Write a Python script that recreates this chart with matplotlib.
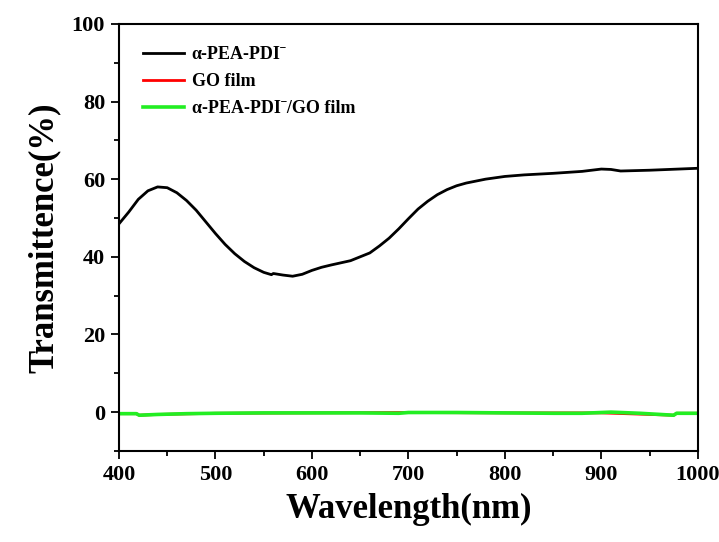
import matplotlib
matplotlib.use('Agg')
import matplotlib.pyplot as plt
import numpy as np

plt.rcParams['font.family'] = ['Liberation Serif', 'DejaVu Serif']
plt.rcParams['font.weight'] = 'bold'

# alpha-PEA-PDI- film
wl_pdi = [400, 410, 420, 430, 440, 450, 460, 470, 480, 490, 500, 510, 520, 530,
          540, 550, 558, 560, 570, 580, 590, 600, 610, 620, 640, 660, 670, 680,
          690, 700, 710, 720, 730, 740, 750, 760, 780, 800, 820, 850, 880, 890,
          900, 910, 920, 950, 980, 1000]
t_pdi = [48.5, 51.5, 54.8, 57.0, 58.0, 57.8, 56.5, 54.5, 52.0, 49.0, 46.0, 43.2,
         40.8, 38.8, 37.2, 36.0, 35.4, 35.7, 35.3, 35.0, 35.5, 36.5, 37.3, 37.9,
         39.0, 41.0, 42.8, 44.8, 47.2, 49.8, 52.3, 54.3, 56.0, 57.3, 58.3, 59.0,
         60.0, 60.7, 61.1, 61.5, 62.0, 62.3, 62.6, 62.5, 62.1, 62.3, 62.6, 62.8]

# GO film (hidden under the composite film curve)
wl_go = [400, 418, 421, 440, 500, 600, 700, 800, 900, 975, 978, 1000]
t_go = [-0.4, -0.4, -0.8, -0.6, -0.3, -0.2, -0.1, -0.2, -0.2, -0.8, -0.3, -0.3]

# alpha-PEA-PDI-/GO film
wl_comp = [400, 418, 421, 440, 470, 500, 550, 600, 650, 690, 700, 750, 800,
           850, 880, 910, 940, 975, 978, 1000]
t_comp = [-0.4, -0.4, -0.8, -0.6, -0.4, -0.3, -0.2, -0.2, -0.2, -0.3, -0.1,
          -0.1, -0.2, -0.3, -0.3, 0.0, -0.3, -0.8, -0.3, -0.3]

fig = plt.figure(figsize=(7.19, 5.42), dpi=100)
ax = fig.add_axes([0.1655, 0.168, 0.805, 0.788])

ax.plot(wl_pdi, t_pdi, color='black', lw=2.0, label='α-PEA-PDIˉ')
ax.plot(wl_go, t_go, color='#ff0000', lw=2.0, label='GO film')
ax.plot(wl_comp, t_comp, color='#22ee22', lw=2.6, label='α-PEA-PDIˉ/GO film')

ax.set_xlim(400, 1000)
ax.set_ylim(-10, 100)
ax.set_xticks(np.arange(400, 1001, 100))
ax.set_xticks(np.arange(450, 1000, 100), minor=True)
ax.set_yticks(np.arange(0, 101, 20))
ax.set_yticks(np.arange(-10, 100, 20), minor=True)

ax.tick_params(which='both', direction='out', top=False, right=False,
               width=1.3, labelsize=16, pad=4)
ax.tick_params(which='major', length=6)
ax.tick_params(which='minor', length=3.5)
for lbl in ax.get_xticklabels() + ax.get_yticklabels():
    lbl.set_fontweight('bold')
for sp in ax.spines.values():
    sp.set_linewidth(1.5)

ax.set_xlabel('Wavelength(nm)', fontsize=25, fontweight='bold', labelpad=6)
ax.set_ylabel('Transmittence(%)', fontsize=25, fontweight='bold', labelpad=8)

leg = ax.legend(loc='upper left', frameon=False, fontsize=13,
                handlelength=2.3, handletextpad=0.4, labelspacing=0.55,
                borderaxespad=0.6, bbox_to_anchor=(0.01, 0.99))
for t in leg.get_texts():
    t.set_fontweight('bold')

fig.savefig('out.png', dpi=100, facecolor='white')
plt.close(fig)
